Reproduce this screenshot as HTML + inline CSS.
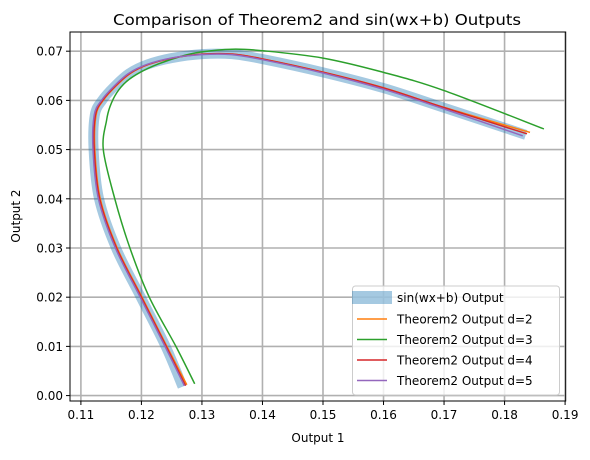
<!DOCTYPE html>
<html><head><meta charset="utf-8"><style>
body{margin:0;background:#fff;font-family:"Liberation Sans","DejaVu Sans",sans-serif}
svg text{font-family:"DejaVu Sans","Liberation Sans",sans-serif;fill:#000}
</style></head><body>
<svg id="chart" width="590" height="455" viewBox="0 0 590 455" xmlns="http://www.w3.org/2000/svg">
<rect width="590" height="455" fill="#fff"/>
<text x="113" y="25" font-size="15" textLength="408" lengthAdjust="spacingAndGlyphs">Comparison of Theorem2 and sin(wx+b) Outputs</text>
<g id="grid"></g>
<g id="series"></g>
<rect x="70" y="32" width="495.7" height="369" fill="none" stroke="#000" stroke-width="1"/>
<g id="ticks"></g>
<text x="318" y="442" font-size="12" text-anchor="middle">Output 1</text>
<text transform="translate(20,216) rotate(-90)" font-size="12" text-anchor="middle">Output 2</text>
<g>
<rect x="352.5" y="286" width="207" height="109" rx="3" fill="#fff" fill-opacity="0.8" stroke="#ccc"/>
<rect x="352" y="291" width="40" height="13" fill="#1f77b4" opacity="0.4"/>
<text x="397" y="302" font-size="12">sin(wx+b) Output</text>
<line x1="357" y1="319" x2="387" y2="319" stroke="#ff7f0e" stroke-width="1.5"/>
<text x="397" y="323.5" font-size="12">Theorem2 Output d=2</text>
<line x1="357" y1="339.5" x2="387" y2="339.5" stroke="#2ca02c" stroke-width="1.5"/>
<text x="397" y="344" font-size="12">Theorem2 Output d=3</text>
<line x1="357" y1="360" x2="387" y2="360" stroke="#d62728" stroke-width="1.5"/>
<text x="397" y="364.5" font-size="12">Theorem2 Output d=4</text>
<line x1="357" y1="380.5" x2="387" y2="380.5" stroke="#9467bd" stroke-width="1.5"/>
<text x="397" y="385" font-size="12">Theorem2 Output d=5</text>
</g>
</svg>
<script>
const xTicks=[0.11,0.12,0.13,0.14,0.15,0.16,0.17,0.18,0.19];
const yTicks=[0.00,0.01,0.02,0.03,0.04,0.05,0.06,0.07];
const sinX=[0.1268,0.124,0.1199,0.1158,0.113,0.1121,0.1123,0.1135,0.1155,0.118,0.121,0.125,0.13,0.135,0.14,0.15,0.16,0.17,0.1835];
const sinY=[0.0018,0.01,0.02,0.03,0.04,0.05,0.057,0.06,0.0628,0.0655,0.0673,0.0686,0.0694,0.0694,0.0684,0.0657,0.0625,0.0585,0.053];
const d2X=[0.1275,0.1242,0.1201,0.116,0.1132,0.1123,0.1125,0.1137,0.1157,0.1182,0.1212,0.1252,0.1302,0.1352,0.1402,0.1502,0.1602,0.1702,0.1842];
const d2Y=[0.0022,0.01,0.02,0.03,0.04,0.05,0.057,0.06,0.0628,0.0655,0.0673,0.0686,0.0694,0.0694,0.0684,0.0657,0.0625,0.0585,0.0535];
const d3X=[0.1288,0.1257,0.1213,0.1181,0.1156,0.1137,0.11425,0.1148,0.1159,0.1175,0.1198,0.1228,0.1264,0.1297,0.135,0.14,0.15,0.16,0.17,0.1865];
const d3Y=[0.0024,0.01,0.02,0.03,0.04,0.05,0.056,0.0587,0.0615,0.0638,0.0657,0.0674,0.0689,0.0698,0.0704,0.0701,0.0686,0.0657,0.062,0.0542];
const d4X=[0.1273,0.1241,0.12,0.1159,0.1131,0.1122,0.1124,0.1136,0.1156,0.1181,0.1211,0.1251,0.1301,0.1351,0.1401,0.1501,0.1601,0.1701,0.1837];
const d4Y=[0.002,0.01,0.02,0.03,0.04,0.05,0.057,0.06,0.0628,0.0655,0.0673,0.0686,0.0694,0.0694,0.0684,0.0657,0.0625,0.0585,0.0532];
const d5X=[0.1271,0.1239,0.1198,0.1157,0.1129,0.112,0.1122,0.1134,0.1154,0.1179,0.1209,0.1249,0.1299,0.1349,0.1399,0.1499,0.1599,0.1699,0.183];
const d5Y=[0.002,0.01,0.02,0.03,0.04,0.05,0.057,0.06,0.0628,0.0655,0.0673,0.0686,0.0693,0.0693,0.0683,0.0656,0.0623,0.0583,0.0528];
const NS="http://www.w3.org/2000/svg";
const X0=70,X1=565.7,Y0=401,Y1=32,xmin=0.1082,xmax=0.1901,ymin=-0.0011,ymax=0.0739;
const sx=v=>X0+(v-xmin)/(xmax-xmin)*(X1-X0);
const sy=v=>Y0-(v-ymin)/(ymax-ymin)*(Y0-Y1);
const grid=document.getElementById('grid'),ticks=document.getElementById('ticks'),ser=document.getElementById('series');
function mk(t,a,p){const e=document.createElementNS(NS,t);for(const k in a)e.setAttribute(k,a[k]);p.appendChild(e);return e;}
xTicks.forEach(v=>{const x=sx(v);
const g=mk('line',{x1:x,x2:x,y1:Y1,y2:Y0,stroke:'#b0b0b0','stroke-width':1.6},grid);


mk('line',{x1:x,x2:x,y1:Y0,y2:Y0+4,stroke:'#000'},ticks);
const t=mk('text',{x:x,y:Y0+18,'font-size':12,'text-anchor':'middle'},ticks);t.textContent=v.toFixed(2);

});
yTicks.forEach(v=>{const y=sy(v);
const g=mk('line',{x1:X0,x2:X1,y1:y,y2:y,stroke:'#b0b0b0','stroke-width':1.6},grid);


mk('line',{x1:X0-4,x2:X0,y1:y,y2:y,stroke:'#000'},ticks);
const t=mk('text',{x:X0-7,y:y+4.5,'font-size':12,'text-anchor':'end'},ticks);t.textContent=v.toFixed(2);

});
function path(xs,ys){const p=xs.map((v,i)=>[sx(v),sy(ys[i])]);let d='M'+p[0][0]+','+p[0][1];
for(let i=0;i<p.length-1;i++){const a=p[Math.max(i-1,0)],b=p[i],c=p[i+1],e=p[Math.min(i+2,p.length-1)];
d+=' C'+(b[0]+(c[0]-a[0])/6)+','+(b[1]+(c[1]-a[1])/6)+' '+(c[0]-(e[0]-b[0])/6)+','+(c[1]-(e[1]-b[1])/6)+' '+c[0]+','+c[1];}return d;}
const specs=[[sinX,sinY,'#1f77b4',10,0.4,'sin-output-line'],[d2X,d2Y,'#ff7f0e',1.5,1,'d2-line'],[d3X,d3Y,'#2ca02c',1.5,1,'d3-line'],[d4X,d4Y,'#d62728',1.5,1,'d4-line'],[d5X,d5Y,'#9467bd',1.5,1,'d5-line']];
specs.forEach(s=>{const e=mk('path',{d:path(s[0],s[1]),fill:'none',stroke:s[2],'stroke-width':s[3],'stroke-opacity':s[4]},ser);

});
</script>
</body></html>
